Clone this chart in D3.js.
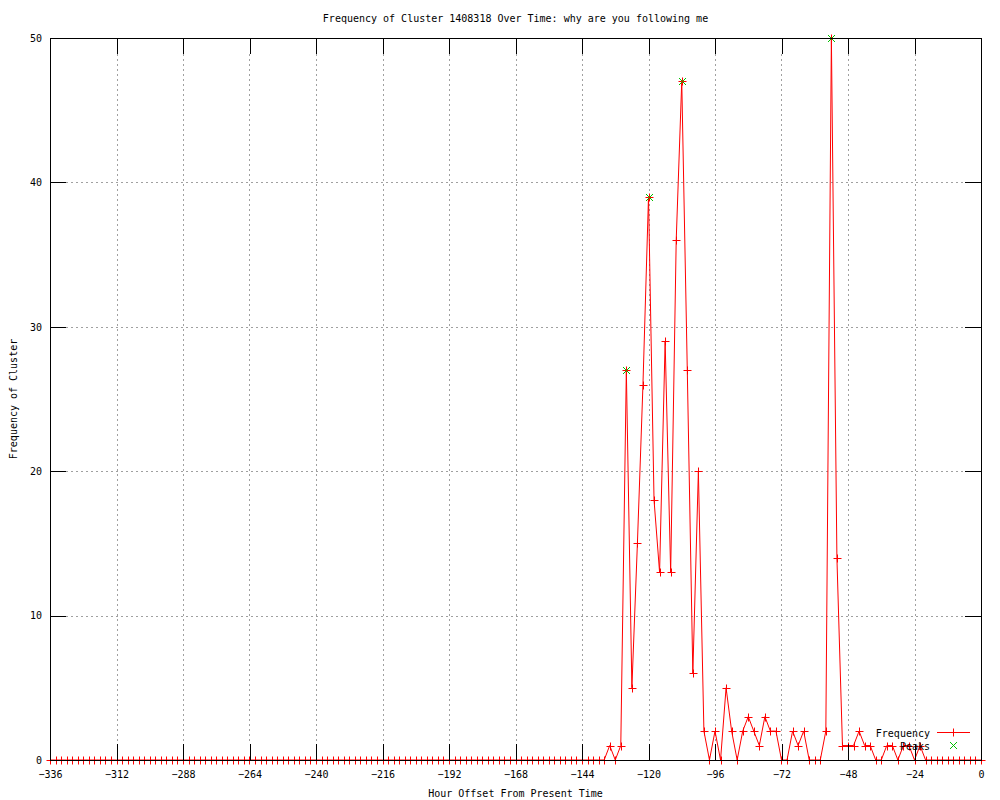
<!DOCTYPE html>
<html>
<head>
<meta charset="utf-8">
<script src="https://cdn.jsdelivr.net/npm/d3@7"></script>
<style>
body { margin: 0; background: #fff; }
text { font-family: "DejaVu Sans Mono", monospace; font-size: 10px; fill: #000; }
</style>
</head>
<body>
<script>
// hour offsets, one sample every 2 hours
var hours = [
  -336,-334,-332,-330,-328,-326,-324,-322,-320,-318,-316,-314,-312,-310,-308,-306,
  -304,-302,-300,-298,-296,-294,-292,-290,-288,-286,-284,-282,-280,-278,-276,-274,
  -272,-270,-268,-266,-264,-262,-260,-258,-256,-254,-252,-250,-248,-246,-244,-242,
  -240,-238,-236,-234,-232,-230,-228,-226,-224,-222,-220,-218,-216,-214,-212,-210,
  -208,-206,-204,-202,-200,-198,-196,-194,-192,-190,-188,-186,-184,-182,-180,-178,
  -176,-174,-172,-170,-168,-166,-164,-162,-160,-158,-156,-154,-152,-150,-148,-146,
  -144,-142,-140,-138,-136,-134,-132,-130,-128,-126,-124,-122,-120,-118,-116,-114,
  -112,-110,-108,-106,-104,-102,-100,-98,-96,-94,-92,-90,-88,-86,-84,-82,
  -80,-78,-76,-74,-72,-70,-68,-66,-64,-62,-60,-58,-56,-54,-52,-50,
  -48,-46,-44,-42,-40,-38,-36,-34,-32,-30,-28,-26,-24,-22,-20,-18,
  -16,-14,-12,-10,-8,-6,-4,-2,0
];
var frequency = [
  0,0,0,0,0,0,0,0,0,0,
  0,0,0,0,0,0,0,0,0,0,
  0,0,0,0,0,0,0,0,0,0,
  0,0,0,0,0,0,0,0,0,0,
  0,0,0,0,0,0,0,0,0,0,
  0,0,0,0,0,0,0,0,0,0,
  0,0,0,0,0,0,0,0,0,0,
  0,0,0,0,0,0,0,0,0,0,
  0,0,0,0,0,0,0,0,0,0,
  0,0,0,0,0,0,0,0,0,0,
  0,
  1,0,1,27,5,15,26,39,18,13,
  29,13,36,47,27,6,20,2,0,2,
  0,5,2,0,2,3,2,1,3,2,
  2,0,0,2,1,2,0,0,0,2,
  50,14,1,1,1,2,1,1,0,0,
  1,1,0,1,1,0,1,0,
  0,0,0,0,0,0,0,0,0,0
];
var peakHours = [-128, -120, -108, -54];
var peakValues = [27, 39, 47, 50];
var xTicks = [-336,-312,-288,-264,-240,-216,-192,-168,-144,-120,-96,-72,-48,-24,0];
var yTicks = [0,10,20,30,40,50];

var w = 1000, h = 800;
var plotL = 50, plotR = 981, plotT = 38, plotB = 760;
var red = "#ff0000", green = "#00c000", grey = "#a0a0a0";

var svg = d3.select("body").append("svg")
    .attr("width", w)
    .attr("height", h);

var x = d3.scaleLinear().domain([-336, 0]).range([plotL, plotR]);
var y = d3.scaleLinear().domain([0, 50]).range([plotB, plotT]);

// grid
svg.append("g").selectAll("line")
    .data(xTicks.slice(1, -1))
    .enter().append("line")
    .attr("x1", function(d){ return Math.round(x(d)) + 0.5; })
    .attr("x2", function(d){ return Math.round(x(d)) + 0.5; })
    .attr("y1", plotT + 16).attr("y2", plotB - 16)
    .attr("stroke", grey).attr("stroke-dasharray", "2,3")
    .attr("shape-rendering", "crispEdges");
svg.append("g").selectAll("line")
    .data(yTicks.slice(1, -1))
    .enter().append("line")
    .attr("y1", function(d){ return Math.round(y(d)) + 0.5; })
    .attr("y2", function(d){ return Math.round(y(d)) + 0.5; })
    .attr("x1", plotL + 16).attr("x2", plotR - 16)
    .attr("stroke", grey).attr("stroke-dasharray", "2,3")
    .attr("shape-rendering", "crispEdges");

// data line + markers
var pts = hours.map(function(d, i){ return [d, frequency[i]]; });
var line = d3.line()
    .x(function(d){ return x(d[0]); })
    .y(function(d){ return y(d[1]); });
svg.append("path")
    .attr("d", line(pts))
    .attr("fill", "none")
    .attr("stroke", red)
    .attr("stroke-width", 1);

function plus(cx, cy){
  return "M" + (cx - 4) + "," + cy + "H" + (cx + 4) + "M" + cx + "," + (cy - 4) + "V" + (cy + 4);
}
function cross(cx, cy){
  return "M" + (cx - 3.5) + "," + (cy - 3.5) + "L" + (cx + 3.5) + "," + (cy + 3.5) +
         "M" + (cx - 3.5) + "," + (cy + 3.5) + "L" + (cx + 3.5) + "," + (cy - 3.5);
}
svg.append("g").selectAll("path")
    .data(pts)
    .enter().append("path")
    .attr("d", function(d){ return plus(Math.round(x(d[0])) + 0.5, Math.round(y(d[1])) + 0.5); })
    .attr("stroke", red)
    .attr("fill", "none");

svg.append("g").selectAll("path")
    .data(peakHours)
    .enter().append("path")
    .attr("d", function(d, i){ return cross(Math.round(x(d)) + 0.5, Math.round(y(peakValues[i])) + 0.5); })
    .attr("stroke", green)
    .attr("fill", "none");

// axes (ticks inward like gnuplot)
var xAxis = d3.axisBottom(x).tickValues(xTicks).tickSize(-16).tickPadding(11).tickFormat(d3.format("d"));
var gx = svg.append("g").attr("transform", "translate(0," + plotB + ")").call(xAxis);
var xTop = d3.axisTop(x).tickValues(xTicks).tickSize(-16).tickFormat("");
var gxt = svg.append("g").attr("transform", "translate(0," + plotT + ")").call(xTop);
var yAxis = d3.axisLeft(y).tickValues(yTicks).tickSize(-16).tickPadding(8);
var gy = svg.append("g").attr("transform", "translate(" + plotL + ",0)").call(yAxis);
var yRight = d3.axisRight(y).tickValues(yTicks).tickSize(-16).tickFormat("");
var gyr = svg.append("g").attr("transform", "translate(" + plotR + ",0)").call(yRight);

[gx, gxt, gy, gyr].forEach(function(g){
  g.select(".domain").remove();
  g.selectAll(".tick line").attr("stroke", "#000").attr("shape-rendering", "crispEdges");
  g.selectAll("text").attr("font-family", null).attr("font-size", null).attr("fill", "#000");
});

// border
svg.append("rect")
    .attr("x", plotL + 0.5).attr("y", plotT + 0.5)
    .attr("width", plotR - plotL).attr("height", plotB - plotT)
    .attr("fill", "none").attr("stroke", "#000")
    .attr("shape-rendering", "crispEdges");

// titles
svg.append("text")
    .attr("x", (plotL + plotR) / 2).attr("y", 22)
    .attr("text-anchor", "middle")
    .text("Frequency of Cluster 1408318 Over Time: why are you following me");
svg.append("text")
    .attr("x", (plotL + plotR) / 2).attr("y", 797)
    .attr("text-anchor", "middle")
    .text("Hour Offset From Present Time");
svg.append("text")
    .attr("transform", "translate(17," + (plotT + plotB) / 2 + ") rotate(-90)")
    .attr("text-anchor", "middle")
    .text("Frequency of Cluster");

// legend
svg.append("text").attr("x", 930).attr("y", 736.5).attr("text-anchor", "end").text("Frequency");
svg.append("line")
    .attr("x1", 937).attr("x2", 970).attr("y1", 732.5).attr("y2", 732.5)
    .attr("stroke", red);
svg.append("path").attr("d", plus(953.5, 732.5)).attr("stroke", red).attr("fill", "none");
svg.append("text").attr("x", 930).attr("y", 750).attr("text-anchor", "end").text("Peaks");
svg.append("path").attr("d", cross(953.5, 745.5)).attr("stroke", green).attr("fill", "none");
</script>
</body>
</html>
